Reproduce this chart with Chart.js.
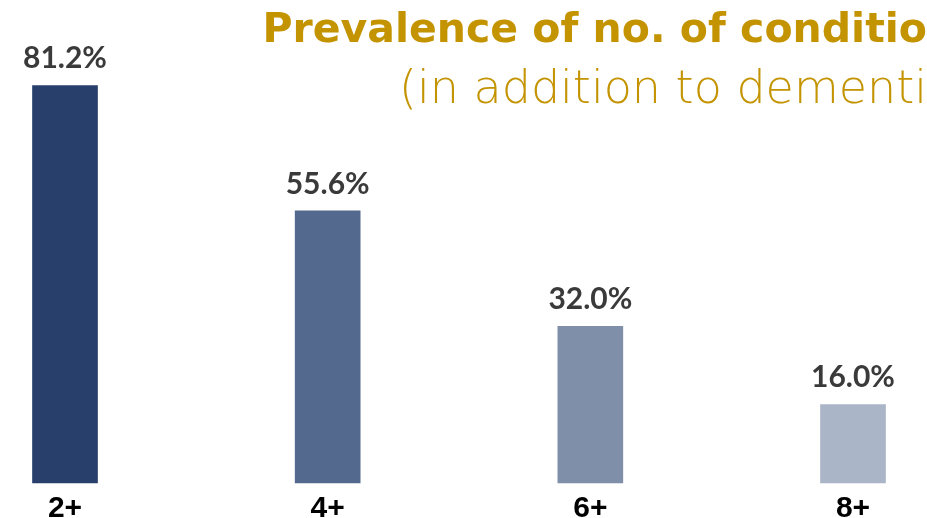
<!DOCTYPE html>
<html>
<head>
<meta charset="utf-8">
<script src="https://cdn.jsdelivr.net/npm/chart.js@4"></script>
<style>
    body { margin: 0; background: #fff; }
    #wrap { position: relative; width: 927px; height: 518px; overflow: hidden; }
    #chart { position: absolute; left: 0; top: 0; }
    .title { position: absolute; right: 0; white-space: nowrap; color: #C49300; font-family: "DejaVu Sans", sans-serif; line-height: 1; }
    #title1 { top: 8px; font-size: 41px; font-weight: 700; }
    #title2 { top: 64px; font-size: 46px; font-weight: 200; }
</style>
</head>
<body>
<div id="wrap">
    <canvas id="chart" width="927" height="518"></canvas>
    <div class="title" id="title1">Prevalence of no. of conditio</div>
    <div class="title" id="title2">(in addition to dementi</div>
</div>
<script>
// number of conditions in addition to dementia
const categories = ["2+", "4+", "6+", "8+"];
const prevalence = [81.2, 55.6, 32.0, 16.0];
const barColors = ["#283F6B", "#536A8E", "#7F8FA9", "#ABB5C8"];

// draw the % value above each bar
const valueLabels = {
    id: "valueLabels",
    afterDatasetsDraw(chart) {
        const ctx = chart.ctx;
        const meta = chart.getDatasetMeta(0);
        ctx.save();
        ctx.fillStyle = "#3A3A3A";
        ctx.font = "bold 30px Lato, sans-serif";
        ctx.textAlign = "center";
        ctx.textBaseline = "bottom";
        meta.data.forEach((bar, i) => {
            ctx.fillText(prevalence[i].toFixed(1) + "%", bar.x, bar.y - 12);
        });
        ctx.restore();
    }
};

const ctx = document.getElementById("chart").getContext("2d");
new Chart(ctx, {
    type: "bar",
    data: {
        labels: categories,
        datasets: [{
            data: prevalence,
            backgroundColor: barColors,
            borderWidth: 0,
            barThickness: 65,
            clip: false
        }]
    },
    options: {
        responsive: false,
        animation: false,
        layout: { padding: { top: 18, left: 65, right: 74, bottom: 0 } },
        plugins: {
            legend: { display: false },
            tooltip: { enabled: false }
        },
        scales: {
            x: {
                offset: false,
                grid: { display: false, drawTicks: false },
                border: { display: false },
                afterFit: (axis) => { axis.height = 35; },
                ticks: {
                    color: "#000",
                    padding: 8,
                    font: { family: "'Liberation Sans Narrow', 'Liberation Sans', sans-serif", size: 30, weight: "bold" }
                }
            },
            y: {
                display: false,
                min: 0,
                max: 95
            }
        }
    },
    plugins: [valueLabels]
});
</script>
</body>
</html>
